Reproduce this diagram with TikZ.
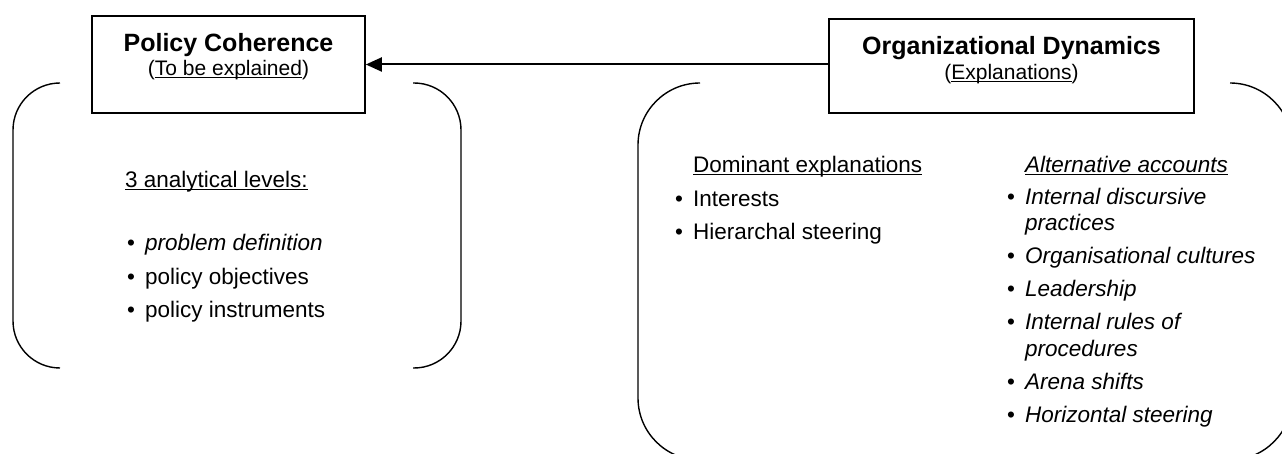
\documentclass[tikz,border=0pt]{standalone}
\usepackage{fontspec}
\setmainfont{Liberation Sans}
\usetikzlibrary{arrows.meta}
\newcommand{\myul}[1]{\underline{\smash{#1}}}
\begin{document}
\begin{tikzpicture}[x=1pt,y=-1pt,
  box/.style={draw, line width=1.6pt, inner sep=0pt},
  brace/.style={draw, line width=1.4pt},
  title/.style={font=\fontsize{25}{30}\selectfont\bfseries, anchor=base, inner sep=0pt},
  sub/.style={font=\fontsize{21}{25}\selectfont, anchor=base, inner sep=0pt},
  body/.style={font=\fontsize{22.5}{26}\selectfont, anchor=base west, inner sep=0pt},
  ibody/.style={body, font=\fontsize{22.5}{26}\selectfont\itshape},
  conn/.style={line width=2pt, -{Triangle[length=16pt,width=14pt]}}]
\useasboundingbox (0,0) rectangle (1282,454);
\clip (0,0) rectangle (1282,454);
% boxes
\node[box, minimum width=273pt, minimum height=97pt] (L) at (228.5,64.5) {};
\node[box, minimum width=365pt, minimum height=94pt] (R) at (1011.5,66) {};
\node[title] (Lt) at (228.5,52) {Policy Coherence};
\node[sub] (Ls) at (228.5,76) {(\myul{To be explained})};
\node[title] (Rt) at (1011.5,55) {Organizational Dynamics};
\node[sub] (Rs) at (1011.5,80) {(\myul{Explanations})};
\draw[conn] (R.west |- L.east) -- (L.east);
% brackets
\draw[brace, rounded corners=47pt] (60,83) -- (13,83) -- (13,368) -- (60,368);
\draw[brace, rounded corners=47pt] (413,83) -- (461,83) -- (461,368) -- (413,368);
\draw[brace, rounded corners=62pt] (700,83) -- (638,83) -- (638,460) -- (700,460);
\draw[brace, rounded corners=62pt] (1230,83) -- (1292,83) -- (1292,460) -- (1230,460);
% left content
\node[body] (lh) at (125,188) {\myul{3 analytical levels:}};
\node[body] (lb1) at (127,251) {•};
\node[ibody] (l1) at (145,251) {problem definition};
\node[body] (lb2) at (127,284) {•};
\node[body] (l2) at (145,284) {policy objectives};
\node[body] (lb3) at (127,317) {•};
\node[body] (l3) at (145,317) {policy instruments};
% dominant explanations
\node[body] (dh) at (693,173) {\myul{Dominant explanations}};
\node[body] (db1) at (675,207) {•};
\node[body] (d1) at (693,207) {Interests};
\node[body] (db2) at (675,240) {•};
\node[body] (d2) at (693,240) {Hierarchal steering};
% alternative accounts
\node[ibody] (ah) at (1025,173) {\myul{Alternative accounts}};
\node[body] (ab1) at (1007,205) {•};
\node[ibody] (a1) at (1025,205) {Internal discursive};
\node[ibody] (a1b) at (1025,231) {practices};
\node[body] (ab2) at (1007,264) {•};
\node[ibody] (a2) at (1025,264) {Organisational cultures};
\node[body] (ab3) at (1007,297) {•};
\node[ibody] (a3) at (1025,297) {Leadership};
\node[body] (ab4) at (1007,330) {•};
\node[ibody] (a4) at (1025,330) {Internal rules of};
\node[ibody] (a4b) at (1025,356) {procedures};
\node[body] (ab5) at (1007,389) {•};
\node[ibody] (a5) at (1025,389) {Arena shifts};
\node[body] (ab6) at (1007,422) {•};
\node[ibody] (a6) at (1025,422) {Horizontal steering};
\end{tikzpicture}
\end{document}
